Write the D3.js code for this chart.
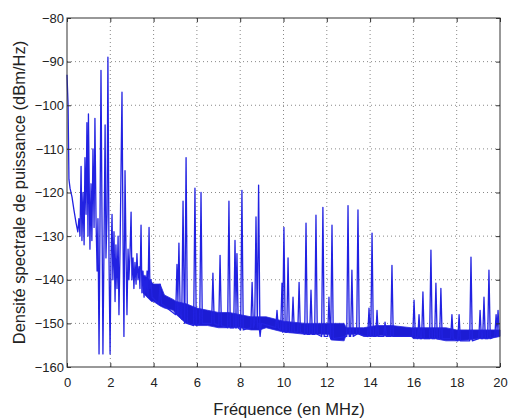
<!DOCTYPE html>
<html>
<head>
<meta charset="utf-8">
<script src="https://cdn.jsdelivr.net/npm/d3@7"></script>
<style>
  body { margin: 0; background: #fff; }
  text { font-family: "Liberation Sans", Arial, sans-serif; fill: #222; }
</style>
</head>
<body>
<div id="chart"></div>
<script>
// trace between 0 and 4 MHz (MHz, dBm/Hz)
var lowFreq = [0, 0.05, 0.09, 0.14, 0.23, 0.32, 0.42, 0.5, 0.55, 0.6,
  0.65, 0.69, 0.74, 0.79, 0.83, 0.88, 0.92, 0.97, 0.99, 1.06,
  1.11, 1.15, 1.2, 1.25, 1.29, 1.34, 1.39, 1.43, 1.48, 1.52,
  1.57, 1.62, 1.66, 1.71, 1.76, 1.8, 1.85, 1.89, 1.94, 1.99,
  2.03, 2.08, 2.12, 2.17, 2.22, 2.26, 2.31, 2.36, 2.4, 2.45,
  2.54, 2.59, 2.63, 2.68, 2.73, 2.77, 2.82, 2.86, 2.91, 2.96,
  3.0, 3.05, 3.09, 3.14, 3.19, 3.23, 3.28, 3.33, 3.37, 3.42,
  3.46, 3.51, 3.56, 3.6, 3.65, 3.7, 3.74, 3.79, 3.83, 3.88, 3.93];
var lowLevel = [-93, -100, -117, -119, -121, -124, -127, -129, -126, -130,
  -114, -131, -120, -132, -112, -125, -104, -130, -102, -133,
  -118, -131, -110, -128, -103, -126, -138, -126, -157, -130,
  -92, -128, -157, -132, -104.5, -135, -125, -89, -135, -157,
  -136, -125, -140, -129, -145, -132, -142, -130, -148, -133,
  -97, -132, -153, -115, -135, -148, -133, -140, -134, -124.5,
  -140, -135, -142, -136, -141, -134, -140, -137, -142, -127.5,
  -143, -138, -144, -139, -143, -138, -144, -128, -142, -140, -144];

// noise floor band (top / bottom edges)
var floorFreq = [3.5, 3.7, 3.9, 4.0, 4.3, 4.5, 4.9, 5.05, 5.5,
  6.0, 6.5, 7.0, 7.5, 8.0, 8.5, 8.9, 9.2, 9.6, 10.0,
  11.0, 12.1, 12.2, 12.8, 12.9, 13.5, 13.7, 14.3, 14.5, 15.0,
  15.9, 16.0, 17.0, 17.5, 18.0, 18.5, 19.0, 19.5, 20.0];
var floorTop = [-139, -139.5, -140.5, -141, -141, -143.5, -144.5, -145, -145.5,
  -146.5, -147, -147.5, -147.5, -148, -148.5, -148.5, -148.5, -149, -149.5,
  -150, -150, -150, -150, -151, -151, -151, -150.5, -150.5, -150.5,
  -151, -151, -151, -151, -151.5, -151.5, -151.5, -151.5, -151.5];
var floorBottom = [-143, -144, -145, -145, -146, -146.5, -147, -148, -150,
  -150.5, -150.5, -151, -151, -151, -151.5, -151.5, -151, -151.5, -152,
  -152.5, -152.5, -153.8, -154, -152.5, -152.5, -153, -153, -152.8, -153,
  -153, -153.5, -153.5, -154, -154, -153.8, -153.5, -153.5, -153];

// spikes above 4 MHz: position, peak level, foot level
var spikeFreq = [4.3, 5.08, 5.17, 5.36, 5.5, 5.91, 6.19, 6.74, 7.07, 7.48,
  7.76, 7.85, 8.08, 8.55, 8.73, 8.85, 8.92, 9.7, 9.93, 10.02,
  10.21, 10.44, 10.72, 11.04, 11.27, 11.5, 11.82, 12.1, 12.24, 12.98,
  13.16, 13.44, 13.95, 14.09, 14.32, 14.69, 15.01, 16.03, 16.26, 16.44,
  16.81, 17.04, 17.27, 17.78, 18.11, 18.66, 19.08, 19.26, 19.49, 19.82, 19.91];
var spikePeak = [-141, -136.5, -131.6, -122, -112, -119, -120, -138.5, -134.4, -122,
  -131, -134, -119.5, -140.6, -125.6, -118.3, -153, -147, -140.8, -128,
  -135, -144, -140.6, -127, -142.4, -125.2, -123.4, -144, -127.5, -123,
  -137.8, -124, -146.5, -129.3, -147, -149.7, -136.7, -144.7, -148, -142.8,
  -133.2, -140.8, -142, -148, -148, -134.8, -147, -144, -137.8, -148, -147];
var spikeFoot = [-145.5, -148, -148, -149, -150, -150.5, -150, -150, -150.5, -151,
  -151, -151, -151.5, -151, -150, -151, -150, -151, -151.5, -152,
  -152, -152, -152, -152.5, -152.5, -152.5, -153, -153, -153.5, -153,
  -153, -152.5, -153, -153, -153, -153, -153, -153, -153.5, -153.5,
  -153.5, -153.5, -153.5, -153.5, -154, -154, -153.5, -153.5, -153.5, -153, -153];

var xTicks = [0, 2, 4, 6, 8, 10, 12, 14, 16, 18, 20];
var yTicks = [-160, -150, -140, -130, -120, -110, -100, -90, -80];

var width = 511, height = 419;
var plotLeft = 67, plotRight = 500, plotTop = 18, plotBottom = 367;

var svg = d3.select("#chart").append("svg")
    .attr("width", width)
    .attr("height", height);

var x = d3.scaleLinear().domain([0, 20]).range([plotLeft, plotRight]);
var y = d3.scaleLinear().domain([-160, -80]).range([plotBottom, plotTop]);

// dotted grid
svg.append("g").selectAll("line")
    .data(xTicks.slice(1, -1))
    .enter().append("line")
    .attr("x1", d => x(d)).attr("x2", d => x(d))
    .attr("y1", plotTop).attr("y2", plotBottom)
    .attr("stroke", "#888")
    .attr("stroke-dasharray", "1,3");
svg.append("g").selectAll("line")
    .data(yTicks.slice(1, -1))
    .enter().append("line")
    .attr("x1", plotLeft).attr("x2", plotRight)
    .attr("y1", d => y(d)).attr("y2", d => y(d))
    .attr("stroke", "#888")
    .attr("stroke-dasharray", "1,3");

// noise floor
var band = floorFreq.map((f, i) => ({f: f, hi: floorTop[i], lo: floorBottom[i]}));
svg.append("path")
    .datum(band)
    .attr("fill", "#1c1cd4")
    .attr("stroke", "#2a2ae0")
    .attr("stroke-width", 0.8)
    .attr("d", d3.area()
        .x(d => x(d.f))
        .y0(d => y(d.lo))
        .y1(d => y(d.hi)));

// trace
var pts = lowFreq.map((f, i) => [f, lowLevel[i]]);
spikeFreq.forEach(function(f, i) {
    pts.push([f - 0.06, spikeFoot[i]]);
    pts.push([f, spikePeak[i]]);
    pts.push([f + 0.06, spikeFoot[i]]);
});

svg.append("path")
    .datum(pts)
    .attr("fill", "none")
    .attr("stroke", "#2222e2")
    .attr("stroke-width", 1.3)
    .attr("stroke-linejoin", "round")
    .attr("d", d3.line().x(d => x(d[0])).y(d => y(d[1])));

// axes, ticks inside like matlab
svg.append("g")
    .attr("transform", "translate(0," + plotBottom + ")")
    .call(d3.axisBottom(x).tickValues(xTicks).tickSize(-4).tickPadding(11));
svg.append("g")
    .attr("transform", "translate(" + plotLeft + ",0)")
    .call(d3.axisLeft(y).tickValues(yTicks).tickSize(-4).tickPadding(3));
svg.append("g")
    .attr("transform", "translate(0," + plotTop + ")")
    .call(d3.axisTop(x).tickValues(xTicks).tickSize(-4).tickFormat(""));
svg.append("g")
    .attr("transform", "translate(" + plotRight + ",0)")
    .call(d3.axisRight(y).tickValues(yTicks).tickSize(-4).tickFormat(""));

svg.selectAll(".domain").remove();
svg.selectAll(".tick line").attr("stroke", "#333");
svg.selectAll(".tick text")
    .style("font-size", "13px")
    .style("font-family", "'Liberation Sans', Arial, sans-serif")
    .attr("fill", "#222");

svg.append("rect")
    .attr("x", plotLeft).attr("y", plotTop)
    .attr("width", plotRight - plotLeft).attr("height", plotBottom - plotTop)
    .attr("fill", "none")
    .attr("stroke", "#333");

svg.append("text")
    .attr("x", 289)
    .attr("y", 415)
    .attr("text-anchor", "middle")
    .style("font-size", "16.5px")
    .text("Fréquence (en MHz)");

svg.append("text")
    .attr("transform", "translate(25," + ((plotTop + plotBottom) / 2) + ") rotate(-90)")
    .attr("text-anchor", "middle")
    .style("font-size", "16.5px")
    .text("Densité spectrale de puissance (dBm/Hz)");
</script>
</body>
</html>
